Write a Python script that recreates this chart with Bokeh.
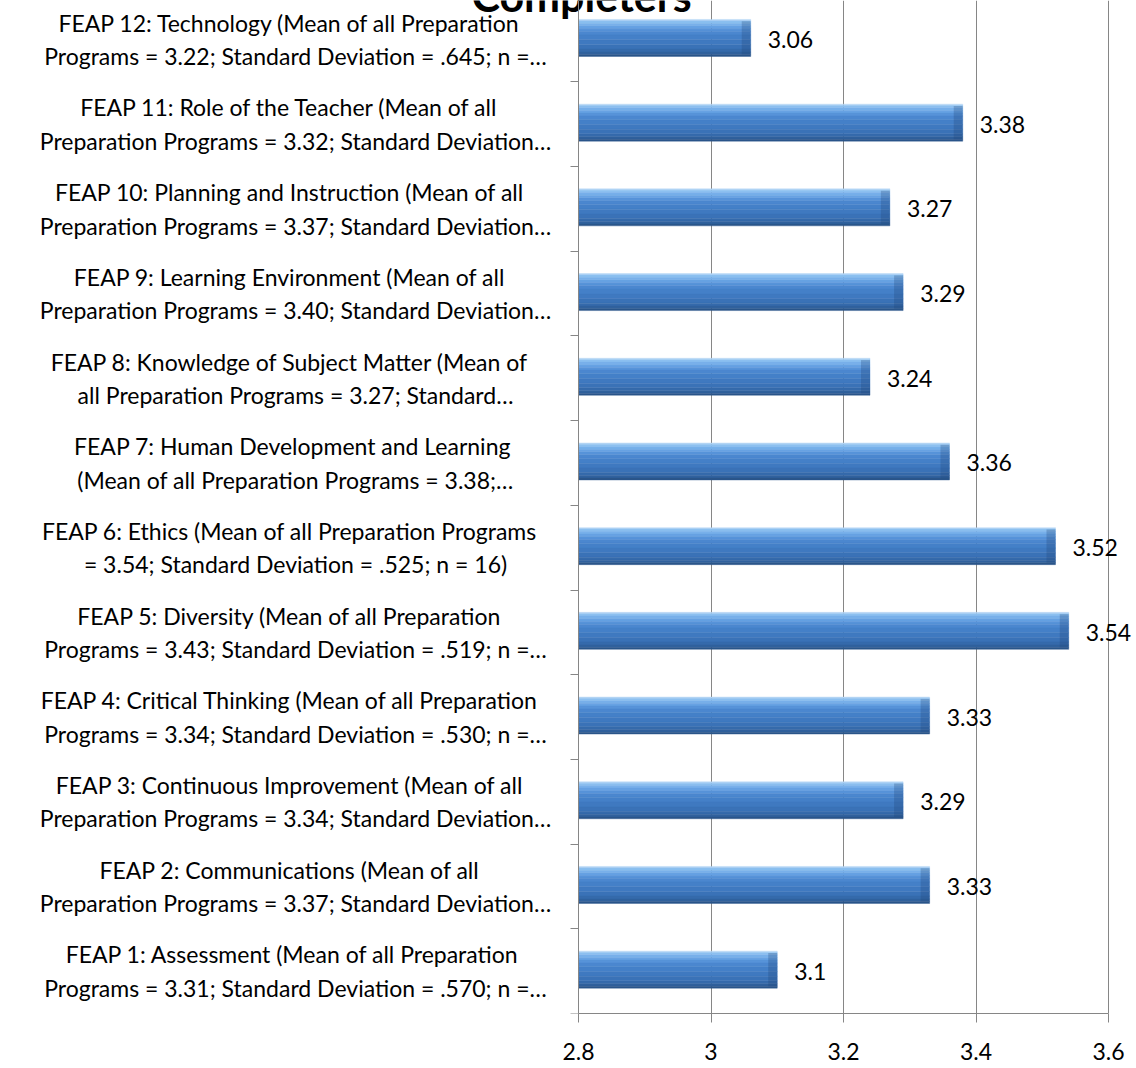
from bokeh.plotting import figure
from bokeh.models import ColumnDataSource, Range1d, FixedTicker
from bokeh.core.properties import value
from bokeh.embed import file_html
from bokeh.resources import INLINE

# ---------------- data ----------------
title_text = "Completers"
feap_line1 = [
    "FEAP 1:  Assessment (Mean of all Preparation",
    "FEAP 2:  Communications  (Mean of all",
    "FEAP 3:  Continuous Improvement  (Mean of all",
    "FEAP 4:  Critical Thinking  (Mean of all Preparation",
    "FEAP 5:  Diversity  (Mean of all Preparation",
    "FEAP 6:  Ethics  (Mean of all Preparation Programs",
    "FEAP 7:  Human Development and Learning",
    "FEAP 8:  Knowledge of Subject Matter  (Mean of",
    "FEAP 9:  Learning Environment  (Mean of all",
    "FEAP 10:  Planning and Instruction  (Mean of all",
    "FEAP 11:  Role of the Teacher  (Mean of all",
    "FEAP 12:  Technology  (Mean of all Preparation",
]
feap_line2 = [
    "Programs = 3.31; Standard Deviation = .570; n =\u2026",
    "Preparation Programs = 3.37; Standard Deviation\u2026",
    "Preparation Programs = 3.34; Standard Deviation\u2026",
    "Programs = 3.34; Standard Deviation = .530; n =\u2026",
    "Programs = 3.43; Standard Deviation = .519; n =\u2026",
    "= 3.54; Standard Deviation = .525; n = 16)",
    "(Mean of all Preparation Programs = 3.38;\u2026",
    "all Preparation Programs = 3.27; Standard\u2026",
    "Preparation Programs = 3.40; Standard Deviation\u2026",
    "Preparation Programs = 3.37; Standard Deviation\u2026",
    "Preparation Programs = 3.32; Standard Deviation\u2026",
    "Programs = 3.22; Standard Deviation = .645; n =\u2026",
]
scores = [3.1, 3.33, 3.29, 3.33, 3.54, 3.52, 3.36, 3.24, 3.29, 3.27, 3.38, 3.06]
x_ticks = [2.8, 3.0, 3.2, 3.4, 3.6]
x_tick_labels = ["2.8", "3", "3.2", "3.4", "3.6"]

# ---------------- layout / style ----------------
W, H = 1136, 1068
BOTTOM = 55                      # space for the value axis
FRAME_H = H - BOTTOM
AX_X0, AX_X1 = x_ticks[0], x_ticks[-1]
AXIS_PX_LEFT, AXIS_PX_RIGHT = 578, 1108
PX_PER_UNIT = (AXIS_PX_RIGHT - AXIS_PX_LEFT) / (AX_X1 - AX_X0)
X_START = AX_X0 - AXIS_PX_LEFT / PX_PER_UNIT
X_END = AX_X0 + (W - AXIS_PX_LEFT) / PX_PER_UNIT
BAND_PX = 84.7
Y_START = 0.5
Y_END = Y_START + FRAME_H / BAND_PX
BAR_H = 0.437
BAR_SHIFT = 1.5 / BAND_PX
FONT = "Lato"
GRID = "#868686"
LABEL_X = AX_X0 - (AXIS_PX_LEFT - 295) / PX_PER_UNIT
TITLE_X = AX_X0 + 3 / PX_PER_UNIT
TITLE_Y = Y_END - 12 / BAND_PX

n = len(scores)
positions = list(range(1, n + 1))
labels = [a + "\n" + b for a, b in zip(feap_line1, feap_line2)]
value_text = [f"{v:g}" for v in scores]

p = figure(width=W, height=H, x_range=Range1d(X_START, X_END), y_range=Range1d(Y_START, Y_END),
           output_backend="svg", toolbar_location=None,
           min_border_left=0, min_border_right=0, min_border_top=0, min_border_bottom=BOTTOM)
p.outline_line_color = None
p.background_fill_color = "white"
p.border_fill_color = "white"

# vertical gridlines
p.xgrid.ticker = FixedTicker(ticks=x_ticks)
p.xgrid.grid_line_color = GRID
p.xgrid.grid_line_width = 1
p.ygrid.grid_line_color = None

# gradient bars made of horizontal strips (top -> bottom)
stops = [
    (0.00, 0.04, "#b3d5f5"),
    (0.04, 0.10, "#8cc0f0"),
    (0.10, 0.17, "#78b0ea"),
    (0.17, 0.24, "#67a2e3"),
    (0.24, 0.32, "#5793d9"),
    (0.32, 0.42, "#4b87cf"),
    (0.42, 0.55, "#4480c8"),
    (0.55, 0.68, "#3f79c0"),
    (0.68, 0.80, "#3a72b7"),
    (0.80, 0.88, "#356aab"),
    (0.88, 0.95, "#30619d"),
    (0.95, 1.00, "#2a558a"),
]
for f0, f1, col in stops:
    off = BAR_SHIFT + BAR_H / 2 - (f0 + f1) / 2 * BAR_H
    src = ColumnDataSource(dict(y=[pos + off for pos in positions], right=scores,
                                left=[AX_X0] * n))
    p.hbar(y="y", left="left", right="right", height=(f1 - f0) * BAR_H, source=src,
           fill_color=col, line_color=col, line_width=0.4)

# darker bevel at the bar end
cap_src = ColumnDataSource(dict(y=[pos + BAR_SHIFT for pos in positions], right=scores,
                                left=[s - 9 / PX_PER_UNIT for s in scores]))
p.hbar(y="y", left="left", right="right", height=BAR_H * 0.9, source=cap_src,
       fill_color="#1f4677", fill_alpha=0.28, line_color=None)

# value labels
p.text(x=scores, y=positions, text=value_text, x_offset=17, text_baseline="middle",
       text_align="left", text_font=value(FONT), text_font_size="23px", text_color="black")

# category labels
p.text(x=[LABEL_X] * n, y=positions, text=labels, text_align="center", text_baseline="middle",
       text_font=value(FONT), text_font_size="23px", text_color="black",
       text_line_height=1.19)

# partially visible title
p.text(x=[TITLE_X], y=[TITLE_Y], text=[title_text], text_align="center",
       text_baseline="alphabetic", y_offset=-17, text_font=value(FONT), text_font_size="43px",
       text_font_style="bold", text_color="black")

# value axis
p.xaxis.ticker = FixedTicker(ticks=x_ticks)
p.xaxis.major_label_overrides = {t: l for t, l in zip(x_ticks, x_tick_labels)}
p.xaxis.bounds = (AX_X0, AX_X1)
p.xaxis.major_tick_out = 9
p.xaxis.major_tick_in = 0
p.xaxis.minor_tick_line_color = None
p.xaxis.axis_line_color = GRID
p.xaxis.major_tick_line_color = GRID
p.xaxis.major_label_standoff = 20
p.xaxis.major_label_text_font = FONT
p.xaxis.major_label_text_font_size = "23px"
p.xaxis.major_label_text_color = "black"

# category axis drawn at x = 2.8
y_bounds = [0.5 + i for i in range(n + 1)]
yax = p.yaxis[0]
yax.fixed_location = AX_X0
yax.ticker = FixedTicker(ticks=y_bounds)
yax.major_label_overrides = {t: "" for t in y_bounds}
yax.major_tick_out = 8
yax.major_tick_in = 0
yax.minor_tick_line_color = None
yax.axis_line_color = GRID
yax.major_tick_line_color = GRID

open("out.html", "w").write(file_html(p, INLINE))
